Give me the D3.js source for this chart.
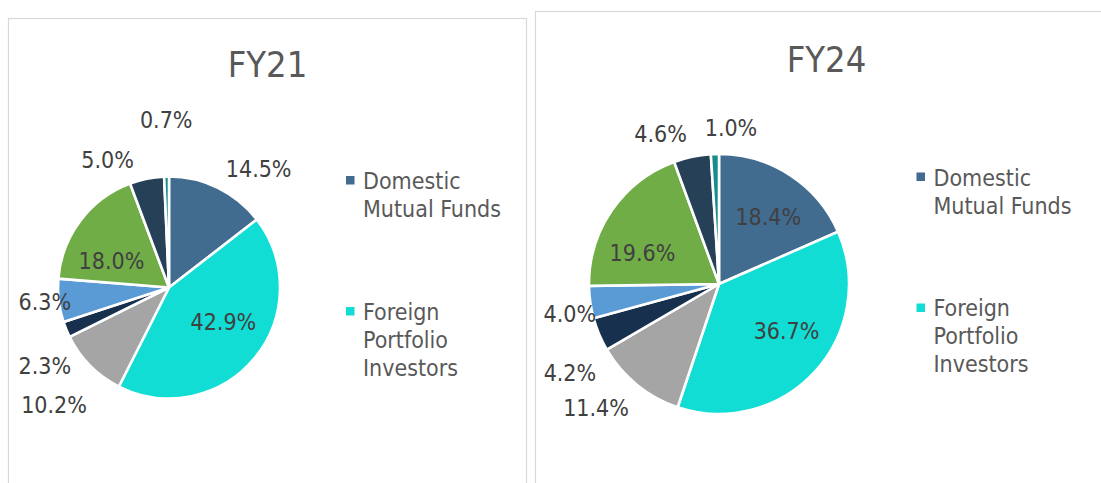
<!DOCTYPE html>
<html>
<head>
<meta charset="utf-8">
<script src="https://cdn.jsdelivr.net/npm/d3@7"></script>
<style>
  html, body { margin: 0; padding: 0; background: #ffffff; }
  svg { display: block; }
  text { font-family: "DejaVu Sans Condensed", "DejaVu Sans", sans-serif; font-stretch: condensed; }
</style>
</head>
<body>
<svg id="chart" width="1101" height="483"></svg>
<script>
// Shareholding mix, share of total (%)
const categories = [
  "Domestic Mutual Funds",
  "Foreign Portfolio Investors",
  "Group C",
  "Group D",
  "Group E",
  "Group F",
  "Group G",
  "Group H"
];
const fy21Values = [14.5, 42.9, 10.2, 2.3, 6.3, 18.0, 5.0, 0.7];
const fy24Values = [18.4, 36.7, 11.4, 4.2, 4.0, 19.6, 4.6, 1.0];
const panelTitles = ["FY21", "FY24"];
const legendItems = ["Domestic Mutual Funds", "Foreign Portfolio Investors"];
const legendLines = [["Domestic", "Mutual Funds"], ["Foreign", "Portfolio", "Investors"]];

const sliceColors = ["#416B8F", "#11DDD4", "#A5A5A5", "#16304D", "#5B9BD5", "#70AD47", "#264058", "#178C8C"];

// Label placement per slice: [angle nudge from slice middle (deg), distance as a fraction of the radius]
const fy21LabelPlacement = [[10.8, 1.345], [-7.7, 0.577], [-0.8, 1.48], [-9.8, 1.32], [0.5, 1.125], [-12, 0.572], [-14.1, 1.28], [0.3, 1.51]];
const fy24LabelPlacement = [[3, 0.643], [-8, 0.63], [5.8, 1.34], [-8, 1.335], [-3.1, 1.17], [-12.1, 0.637], [-9.3, 1.243], [6.2, 1.203]];

const svg = d3.select("#chart");

const color = d3.scaleOrdinal().domain(categories).range(sliceColors);
const fmt = d3.format(".1f");

const panels = [
  { title: panelTitles[0], values: fy21Values, placement: fy21LabelPlacement,
    frame: { x: 8.5, y: 18.5, w: 518, h: 600 }, titleX: 267.5, titleY: 77,
    cx: 169, cy: 287.5, r: 111,
    legendX: 346, legendMarkerY: [176, 307], legendTextX: 363, legendBaseY: [188.5, 319.5] },
  { title: panelTitles[1], values: fy24Values, placement: fy24LabelPlacement,
    frame: { x: 535.5, y: 11.5, w: 600, h: 600 }, titleX: 826.5, titleY: 72,
    cx: 719, cy: 284, r: 130,
    legendX: 916.5, legendMarkerY: [172.5, 303.5], legendTextX: 933.5, legendBaseY: [185.5, 315.5] }
];

const pie = d3.pie().sort(null).value(d => d.value);

panels.forEach(p => {
  const g = svg.append("g");

  g.append("rect")
    .attr("x", p.frame.x).attr("y", p.frame.y)
    .attr("width", p.frame.w).attr("height", p.frame.h)
    .attr("fill", "#ffffff")
    .attr("stroke", "#D9D9D9").attr("stroke-width", 1.2);

  g.append("text")
    .attr("x", p.titleX).attr("y", p.titleY)
    .attr("text-anchor", "middle")
    .attr("font-size", 36)
    .attr("fill", "#595959")
    .text(p.title);

  const data = categories.map((c, i) => ({ key: c, value: p.values[i] }));
  const arcs = pie(data);
  const arc = d3.arc().innerRadius(0).outerRadius(p.r);

  const pg = g.append("g").attr("transform", `translate(${p.cx},${p.cy})`);
  pg.selectAll("path.slice")
    .data(arcs)
    .join("path")
    .attr("class", "slice")
    .attr("d", arc)
    .attr("fill", d => color(d.data.key))
    .attr("stroke", "#ffffff")
    .attr("stroke-width", 2.6)
    .attr("stroke-linejoin", "round");

  pg.selectAll("text.value")
    .data(arcs)
    .join("text")
    .attr("class", "value")
    .attr("text-anchor", "middle")
    .attr("font-size", 23)
    .attr("fill", "#404040")
    .each(function (d, i) {
      const [nudge, k] = p.placement[i];
      const a = (d.startAngle + d.endAngle) / 2 + nudge * Math.PI / 180;
      const dist = k * p.r;
      d3.select(this)
        .attr("x", Math.sin(a) * dist)
        .attr("y", -Math.cos(a) * dist + 8.4);
    })
    .text(d => fmt(d.data.value) + "%");

  legendItems.forEach((item, j) => {
    g.append("rect")
      .attr("x", p.legendX).attr("y", p.legendMarkerY[j])
      .attr("width", 8.5).attr("height", 8.5)
      .attr("fill", color(item));
    const t = g.append("text")
      .attr("x", p.legendTextX).attr("y", p.legendBaseY[j])
      .attr("font-size", 23)
      .attr("fill", "#595959");
    legendLines[j].forEach((line, li) => {
      t.append("tspan")
        .attr("x", p.legendTextX)
        .attr("y", p.legendBaseY[j] + li * 28)
        .text(line);
    });
  });
});
</script>
</body>
</html>
